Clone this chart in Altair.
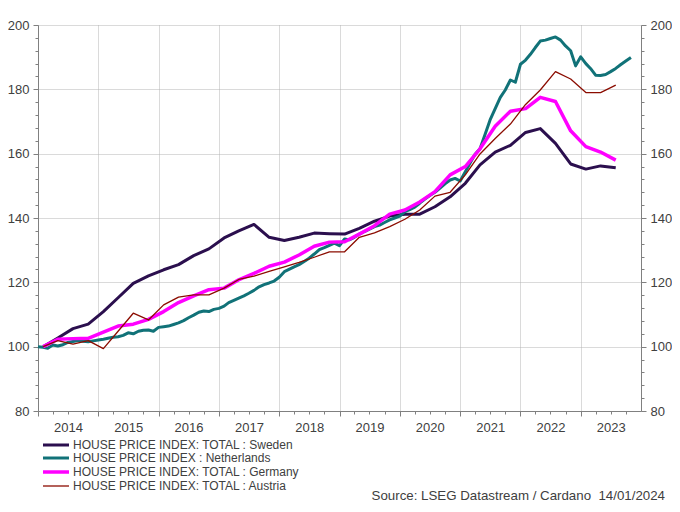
import altair as alt
import pandas as pd

names = [
    "HOUSE PRICE INDEX: TOTAL : Sweden",
    "HOUSE PRICE INDEX : Netherlands",
    "HOUSE PRICE INDEX: TOTAL : Germany",
    "HOUSE PRICE INDEX: TOTAL : Austria",
]
colors = ["#2b0f4e", "#117278", "#ff00ff", "#8b0c00"]
widths = [3.0, 3.0, 3.5, 1.3]

# quarterly series (2014 Q1 .. 2023 Q3), plotted mid-quarter
quarter_dates = [f"{2014 + k // 4}-{(k % 4) * 3 + 2:02d}-01" for k in range(39)]
# monthly series (Jan 2014 .. Nov 2023)
month_dates = [f"{2014 + m // 12}-{m % 12 + 1:02d}-01" for m in range(119)]

sweden = [100.0, 102.7, 105.6, 107.0, 110.9, 115.2, 119.7, 122.0, 123.9, 125.5,
          128.3, 130.4, 133.8, 136.0, 138.0, 134.0, 133.0, 134.0, 135.3, 135.1,
          135.0, 136.8, 139.0, 140.6, 141.2, 141.2, 143.5, 146.6, 150.8, 156.5,
          160.5, 162.6, 166.6, 167.8, 163.2, 156.8, 155.2, 156.2, 155.6]

germany = [100.0, 102.3, 102.5, 102.6, 104.5, 106.4, 107.0, 108.5, 110.9, 113.7,
           115.8, 117.7, 118.2, 120.8, 122.8, 125.0, 126.3, 128.5, 131.2, 132.5,
           132.6, 135.0, 137.6, 141.2, 142.5, 145.0, 148.2, 153.4, 156.0, 161.5,
           168.5, 173.2, 174.0, 177.5, 176.2, 167.1, 162.2, 160.5, 158.0]

austria = [100.0, 101.9, 100.8, 101.9, 99.4, 104.8, 110.4, 108.3, 113.0, 115.4,
           116.1, 116.1, 118.2, 120.9, 121.9, 123.4, 124.8, 126.2, 127.8, 129.5,
           129.5, 134.0, 135.4, 137.3, 139.6, 142.5, 146.8, 148.0, 153.4, 159.9,
           164.7, 169.2, 175.3, 179.8, 185.5, 183.2, 179.0, 179.0, 181.3]

netherlands = [
    100.0, 99.8, 99.5, 100.5, 100.2, 100.6, 101.3, 101.6, 101.9, 101.7, 101.5, 101.8,
    102.1, 102.3, 102.6, 102.9, 103.1, 103.5, 104.3, 104.0, 104.8, 105.1, 105.2, 104.8,
    106.0, 106.2, 106.4, 106.9, 107.4, 108.1, 109.0, 109.8, 110.7, 111.1, 110.9, 111.6,
    111.9, 112.6, 113.7, 114.4, 115.1, 115.8, 116.6, 117.5, 118.6, 119.3, 119.8, 120.4,
    121.6, 123.3, 124.0, 124.8, 125.5, 126.5, 127.5, 128.8, 130.2, 130.8, 131.5, 132.2,
    131.4, 133.5, 133.2, 134.0, 135.0, 135.8, 136.5, 137.3, 137.8, 138.6, 139.4, 140.0,
    140.6, 142.0, 142.6, 143.4, 144.6, 145.9, 147.0, 148.0, 149.3, 150.6, 151.8, 152.3,
    151.5, 154.4, 157.0, 159.8, 161.5, 166.0, 170.5, 174.0, 177.5, 179.8, 182.9, 182.2,
    187.8, 189.1, 190.8, 193.0, 195.0, 195.3, 195.8, 196.3, 195.3, 193.5, 192.0, 187.3,
    190.1, 188.0, 186.5, 184.4, 184.3, 184.6, 185.5, 186.5, 187.7, 188.8, 189.9,
]

source_text = "Source: LSEG Datastream / Cardano\u00a0\u00a014/01/2024"

rows = []
for d, v in zip(quarter_dates, sweden):
    rows.append({"date": d, "value": v, "series": names[0]})
for d, v in zip(month_dates, netherlands):
    rows.append({"date": d, "value": v, "series": names[1]})
for d, v in zip(quarter_dates, germany):
    rows.append({"date": d, "value": v, "series": names[2]})
for d, v in zip(quarter_dates, austria):
    rows.append({"date": d, "value": v, "series": names[3]})
df = pd.DataFrame(rows)

FONT = "Liberation Sans"
AXC = "#808080"
LABC = "#404040"
GRIDC = "#b4b4b4"

xscale = alt.Scale(type="utc", domain=[alt.DateTime(year=2014, month=1, date=1, utc=True),
                                       alt.DateTime(year=2024, month=1, date=1, utc=True)])
yscale = alt.Scale(domain=[80, 200], nice=False, zero=False)

xvals = [alt.DateTime(year=y, month=m, date=1, utc=True) for y in range(2014, 2024) for m in (1, 4, 7, 10)]
yvals = list(range(80, 201, 4))

xmajor = "utcmonth(datum.value) === 0"
ymajor = "datum.value % 20 === 0"

x_axis = alt.Axis(
    values=xvals, title=None, grid=True,
    gridColor=GRIDC, gridDash=[1, 1], gridWidth=1,
    gridOpacity={"condition": {"test": xmajor, "value": 1}, "value": 0},
    tickSize={"condition": {"test": xmajor, "value": 5}, "value": 3},
    labelExpr=f"{xmajor} ? utcFormat(datum.value, '%Y') : ''",
    labelOffset=30, labelFlush=False, labelOverlap=False, labelPadding=5,
    labelFont=FONT, labelFontSize=13, labelColor=LABC,
    domainColor=AXC, tickColor=AXC,
)

def y_axis(orient, grid):
    return alt.Axis(
        orient=orient, values=yvals, title=None, grid=grid,
        gridColor=GRIDC, gridDash=[1, 1], gridWidth=1,
        gridOpacity={"condition": {"test": ymajor, "value": 1}, "value": 0},
        tickSize={"condition": {"test": ymajor, "value": 5}, "value": 3},
        labelExpr=f"{ymajor} ? datum.label : ''",
        labelFlush=False, labelOverlap=False, labelPadding=4,
        labelFont=FONT, labelFontSize=13, labelColor=LABC,
        domainColor=AXC, tickColor=AXC,
    )

legend_kw = dict(
    title=None, orient="none", legendX=12, legendY=414,
    symbolType="M-3.25,0H3.25", symbolSize=64,
    labelFont=FONT, labelFontSize=12, labelColor=LABC,
    rowPadding=1, labelOffset=11, padding=0, labelLimit=500,
)

lines = alt.Chart(df).mark_line(strokeJoin="round").encode(
    x=alt.X("date:T", scale=xscale, axis=x_axis),
    y=alt.Y("value:Q", scale=yscale, axis=y_axis("left", True)),
    color=alt.Color("series:N", scale=alt.Scale(domain=names, range=colors),
                    legend=alt.Legend(**legend_kw)),
    strokeWidth=alt.StrokeWidth("series:N",
                                scale=alt.Scale(type="ordinal", domain=names, range=widths),
                                legend=alt.Legend(**legend_kw)),
)

right = alt.Chart(df).mark_point(opacity=0).encode(
    y=alt.Y("value:Q", scale=yscale, axis=y_axis("right", False)),
)

src = alt.Chart(pd.DataFrame({"text": [source_text]})).mark_text(
    align="right", baseline="alphabetic", font=FONT, fontSize=13.3, color=LABC
).encode(x=alt.value(627), y=alt.value(475), text="text:N")

chart = alt.layer(lines, right, src).resolve_axis(y="independent").properties(
    width=603, height=386,
    autosize=alt.AutoSizeParams(type="none"),
    padding={"left": 30, "top": 17, "right": 31, "bottom": 93},
    background="white",
).configure_view(stroke=None)

chart.save("out.html", embed_options={"renderer": "svg", "actions": False})
